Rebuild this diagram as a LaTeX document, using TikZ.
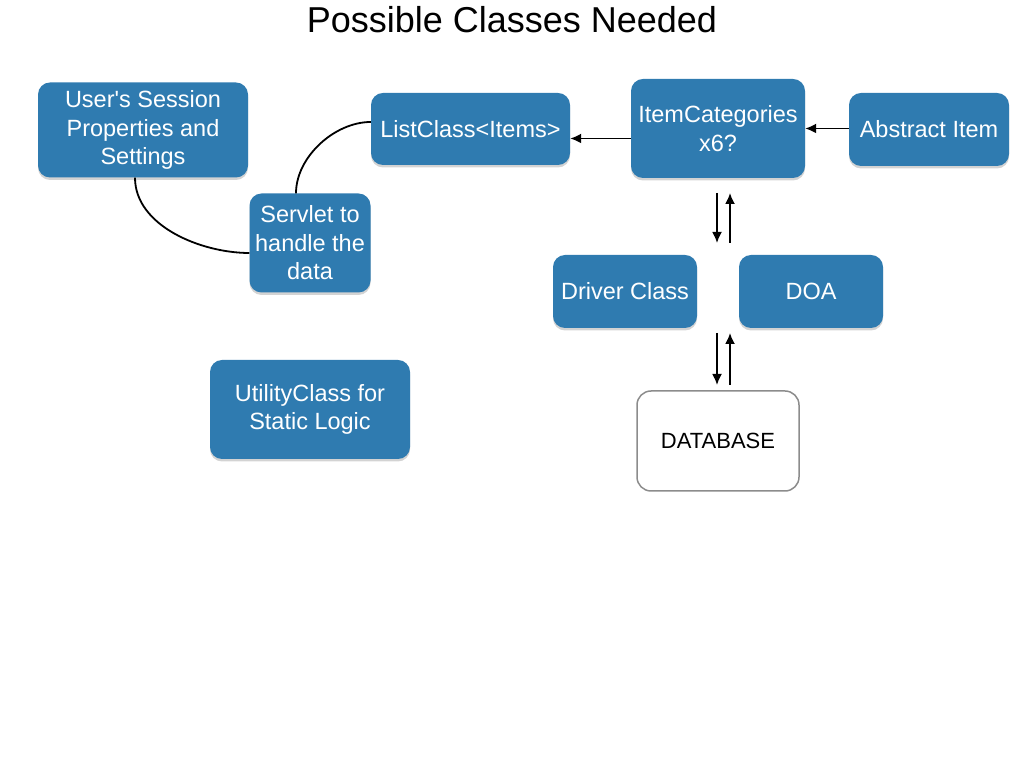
\documentclass[tikz,border=0pt]{standalone}
\usepackage{fontspec}
\setmainfont{Liberation Sans}
\usetikzlibrary{arrows.meta,positioning,shapes,calc,shadows}
\definecolor{boxblue}{RGB}{47,123,176}
\definecolor{dbgray}{RGB}{140,140,140}

\tikzset{
  classbox/.style={draw=none,fill=boxblue,text=white,rounded corners=12pt,align=center,
    inner sep=0pt,font=\fontsize{23.5}{28.5}\selectfont,
    drop shadow={opacity=0.35,shadow xshift=0pt,shadow yshift=-2.5pt}},
  dbbox/.style={draw=dbgray,line width=1.5pt,fill=white,rounded corners=14pt,align=center,
    inner sep=0pt,font=\fontsize{22}{26}\selectfont},
  arr/.style={-{Latex[length=11pt,width=10pt]},line width=1.8pt},
  link/.style={line width=1.8pt}
}

\begin{document}
\begin{tikzpicture}[x=1pt,y=1pt]
    \useasboundingbox (0,0) rectangle (1024,768);
    \node[anchor=base,font=\fontsize{36}{40}\selectfont] (title) at (512,735) {Possible Classes Needed};

    % left side
    \node[classbox,minimum width=210,minimum height=95] (user) at (143,638) {User\textquotesingle s Session\\Properties and\\Settings};
    \node[classbox,minimum width=121,minimum height=99] (servlet) at (310,525) {Servlet to\\handle the\\data};
    \node[classbox,minimum width=199,minimum height=72] (list) at (470.5,639) {ListClass<Items>};
    \node[classbox,minimum width=200,minimum height=99] (util) at (310,358.5) {UtilityClass for\\Static Logic};

    % right side
    \node[classbox,minimum width=174,minimum height=99] (cat) at (718,639.5) {ItemCategories\\x6?};
    \node[classbox,minimum width=160,minimum height=73] (abs) at (929,638.5) {Abstract Item};
    \node[classbox,minimum width=144,minimum height=73] (driver) at (625,476.5) {Driver Class};
    \node[classbox,minimum width=144,minimum height=73] (doa) at (811,476.5) {DOA};
    \node[dbbox,minimum width=162,minimum height=100] (db) at (718,327) {DATABASE};

    % curved links
    \draw[link] ([xshift=-8pt]user.south) to[out=-90,in=180,looseness=0.9] ([yshift=-10pt]servlet.west);
    \draw[link] ([xshift=-14pt]servlet.north) to[out=90,in=180,looseness=0.9] ([yshift=7pt]list.west);

    % horizontal arrows
    \draw[arr] ([yshift=-10pt]cat.west) -- ([yshift=-10pt]cat.west -| list.east);
    \draw[arr] ([yshift=1pt]abs.west) -- ([yshift=1pt]abs.west -| cat.east);

    % vertical arrow pairs
    \coordinate (catLow) at (723,575);
    \coordinate (midHigh) at (723,525);
    \coordinate (midLow) at (723,435);
    \coordinate (dbHigh) at (723,383);
    \draw[arr] ([xshift=-6pt]catLow) -- ([xshift=-6pt]midHigh);
    \draw[arr] ([xshift=7pt]midHigh) -- ([xshift=7pt]catLow);
    \draw[arr] ([xshift=-6pt]midLow) -- ([xshift=-6pt]dbHigh);
    \draw[arr] ([xshift=7pt]dbHigh) -- ([xshift=7pt]midLow);
\end{tikzpicture}
\end{document}
